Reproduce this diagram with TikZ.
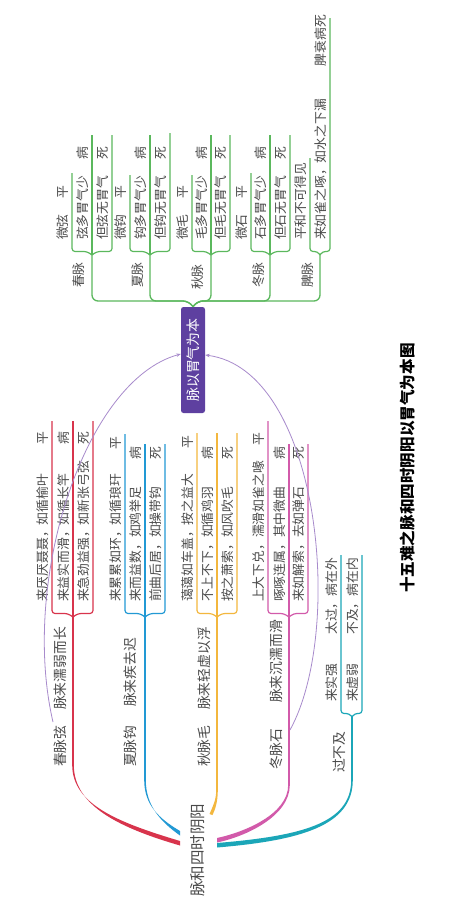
\documentclass[tikz,border=0pt]{standalone}
\usepackage{fontspec}
\newfontfamily\cjk{Noto Sans CJK SC}
\usetikzlibrary{arrows.meta,calc}
\definecolor{cG}{HTML}{5BB85D}
\definecolor{cR}{HTML}{D8344C}
\definecolor{cB}{HTML}{2299D4}
\definecolor{cO}{HTML}{F3B73E}
\definecolor{cM}{HTML}{D25AAA}
\definecolor{cC}{HTML}{1BA6B8}
\definecolor{cP}{HTML}{5E40A0}
\definecolor{cRel}{HTML}{A88BCC}
\definecolor{txt}{HTML}{4A4A4A}
\newcommand\fs[1]{\fontsize{#1}{#1}\selectfont}
\tikzset{
 lt/.style={rotate=90, inner sep=0pt, anchor=south west, text=txt, font=\cjk\fs{12.8}},
 lb/.style={lt, font=\cjk\fs{13.8}},
 kline/.style={line width=1.2pt, rounded corners=3pt},
 tline/.style={line width=1.3pt, rounded corners=6pt},
 vline/.style={line width=1.6pt},
 rel/.style={cRel, line width=0.8pt, -{Stealth[length=4.5pt,width=3.5pt]}},
}
\newcommand\leaf[6]{\node[lt] (#1) at ({#2-3},#3) {\makebox[#4pt][l]{#5\hfill #6}};}
\newcommand\kidS[5]{\draw[#1,kline] (#2,#3) -- ({#2+0.25*(#4-#2)},{#3-3.5}) -- (#4,{#3-3.5}) -- (#4,#5);}
\newcommand\kidM[4]{\draw[#1,kline] (#2,#3) -- (#2,#4);}
\begin{document}
\begin{tikzpicture}[x=1pt,y=-1pt]
\fill[white] (0,0) rectangle (453,916);
\useasboundingbox (0,0) rectangle (453,916);

% central box and title
\node[rotate=90, fill=cP, text=white, rounded corners=2.5pt, minimum width=106pt, minimum height=24pt, inner sep=0pt, font=\cjk\fs{13.9}] (c) at (193,360) {脉以胃气为本};
\node[rotate=90, font=\cjk\bfseries\fs{15.6}, text=black, inner sep=0pt] (t) at (407.5,468) {十五难之脉和四时阴阳以胃气为本图};

% ===== green tree =====
\draw[cG,tline] (c.east) -- (189,301) -- (92,301) -- (92,255);
\draw[cG,tline] (c.east) -- (189,301) -- (150,301) -- (150,255);
\draw[cG,tline] (c.east) -- (197,301) -- (211,301) -- (211,255);
\draw[cG,tline] (c.east) -- (197,301) -- (270,301) -- (270,255);
\draw[cG,tline] (c.east) -- (197,301) -- (320,301) -- (320,255);
\node[lt] (g1) at (85,288) {春脉};
\node[lt] (g2) at (144,288) {夏脉};
\node[lt] (g3) at (204,290) {秋脉};
\node[lt] (g4) at (265,288) {冬脉};
\node[lt] (g5) at (314,288) {脾脉};
% spring
\kidS{cG}{92}{255}{72}{173}\kidM{cG}{92}{255}{135}\kidS{cG}{92}{255}{112}{135}
\leaf{g1a}{72}{240}{54}{微弦}{平}
\leaf{g1b}{92}{240}{93}{弦多胃气少}{病}
\leaf{g1c}{112}{240}{93}{但弦无胃气}{死}
% summer
\kidS{cG}{150}{255}{130}{175}\kidM{cG}{150}{255}{135}\kidS{cG}{150}{255}{170}{133}
\leaf{g2a}{130}{240}{54}{微钩}{平}
\leaf{g2b}{150}{240}{93}{钩多胃气少}{病}
\leaf{g2c}{170}{240}{93}{但钩无胃气}{死}
% autumn
\kidS{cG}{211}{255}{192}{175}\kidM{cG}{211}{255}{135}\kidS{cG}{211}{255}{230}{135}
\leaf{g3a}{192}{240}{54}{微毛}{平}
\leaf{g3b}{211}{240}{93}{毛多胃气少}{病}
\leaf{g3c}{230}{240}{93}{但毛无胃气}{死}
% winter
\kidS{cG}{270}{255}{251}{173}\kidM{cG}{270}{255}{135}\kidS{cG}{270}{255}{290}{135}
\leaf{g4a}{251}{240}{54}{微石}{平}
\leaf{g4b}{270}{240}{93}{石多胃气少}{病}
\leaf{g4c}{290}{240}{93}{但石无胃气}{死}
% spleen
\kidS{cG}{320}{255}{310}{158}\kidS{cG}{320}{255}{330}{18}
\leaf{g5a}{310}{240}{77}{平和不可得见}{}
\leaf{g5b}{330}{240}{225}{来如雀之啄，如水之下漏}{脾衰病死}

% ===== left tree =====
\node[rotate=90, inner sep=0pt, font=\cjk\fs{15.5}, text=txt] (root) at (197.5,850) {脉和四时阴阳};
% tapered main branches
\fill[cR] (180,841) .. controls (120,823) and (72.2,805) .. (72.2,765) -- (73.8,765) .. controls (73.8,806) and (120,828) .. (180,845.5) -- cycle;
\fill[cB] (180,831) .. controls (159,818.5) and (144.2,805) .. (144.2,780) -- (145.8,780) .. controls (145.8,806) and (161,822) .. (180,835.5) -- cycle;
\fill[cO] (209.5,814) .. controls (213,806) and (216.2,800) .. (216.2,790) -- (217.8,790) .. controls (217.8,801) and (215.5,809) .. (212.5,815) -- cycle;
\fill[cM] (217,838) .. controls (245,832) and (288.2,814) .. (288.2,785) -- (289.8,785) .. controls (289.8,816) and (246,836.5) .. (217,842.5) -- cycle;
\fill[cC] (217,843) .. controls (300,836) and (351.2,824) .. (351.2,780) -- (352.8,780) .. controls (352.8,826) and (300,840.5) .. (217,847.5) -- cycle;
\draw[cR,vline] (73,766) -- (73,617);
\draw[cB,vline] (145,781) -- (145,617);
\draw[cO,vline] (217,791) -- (217,617);
\draw[cM,vline] (289,786) -- (289,617);
\draw[cC,vline] (352,781) -- (352,717);
% labels
\node[lb] (l1) at (67,767) {春脉弦};
\node[lb] (l1b) at (67,710) {脉来濡弱而长};
\node[lb] (l2) at (137,767) {夏脉钩};
\node[lb] (l2b) at (137,707) {脉来疾去迟};
\node[lb] (l3) at (211,767) {秋脉毛};
\node[lb] (l3b) at (211,710) {脉来轻虚以浮};
\node[lb] (l4) at (283,770) {冬脉石};
\node[lb] (l4b) at (283,703) {脉来沉濡而滑};
\node[lb] (l5) at (346,773) {过不及};
% red
\kidS{cR}{73}{617}{52}{421}\kidM{cR}{73}{617}{421}\kidS{cR}{73}{617}{93}{421}
\leaf{r1}{52}{602}{170}{来厌厌聂聂，如循榆叶}{平}
\leaf{r2}{73}{602}{170}{来益实而滑，如循长竿}{病}
\leaf{r3}{93}{602}{170}{来急劲益强，如新张弓弦}{死}
% blue
\kidS{cB}{145}{617}{125}{434}\kidM{cB}{145}{617}{444}\kidS{cB}{145}{617}{165}{444}
\leaf{b1}{125}{602}{165}{来累累如环，如循琅玕}{平}
\leaf{b2}{145}{602}{155}{来而益数，如鸡举足}{病}
\leaf{b3}{165}{602}{155}{前曲后居，如操带钩}{死}
% orange
\kidS{cO}{217}{617}{197}{433}\kidM{cO}{217}{617}{433}\kidS{cO}{217}{617}{237}{433}
\leaf{o1}{197}{602}{166}{蔼蔼如车盖，按之益大}{平}
\leaf{o2}{217}{602}{155}{不上不下，如循鸡羽}{病}
\leaf{o3}{237}{602}{155}{按之萧索，如风吹毛}{死}
% magenta
\kidS{cM}{289}{617}{268}{421}\kidM{cM}{289}{617}{444}\kidS{cM}{289}{617}{308}{444}
\leaf{m1}{268}{602}{169}{上大下兑，濡滑如雀之喙}{平}
\leaf{m2}{289}{602}{155}{啄啄连属，其中微曲}{病}
\leaf{m3}{308}{602}{155}{来如解索，去如弹石}{死}
% cyan
\kidS{cC}{352}{717}{341}{555}\kidS{cC}{352}{717}{362}{555}
\leaf{c1}{341}{702}{144}{来实强}{太过，病在外}
\leaf{c2}{362}{702}{144}{来虚弱}{不及，病在内}

% relationship curves
\coordinate (ra) at (53,722);
\coordinate (rb) at (290,730);
\draw[rel] (ra) .. controls (20,580) and (85,380) .. ($(c.north)+(0,-6)$);
\draw[rel] (rb) .. controls (345,630) and (320,370) .. ($(c.south)+(0,-5)$);
\end{tikzpicture}
\end{document}
